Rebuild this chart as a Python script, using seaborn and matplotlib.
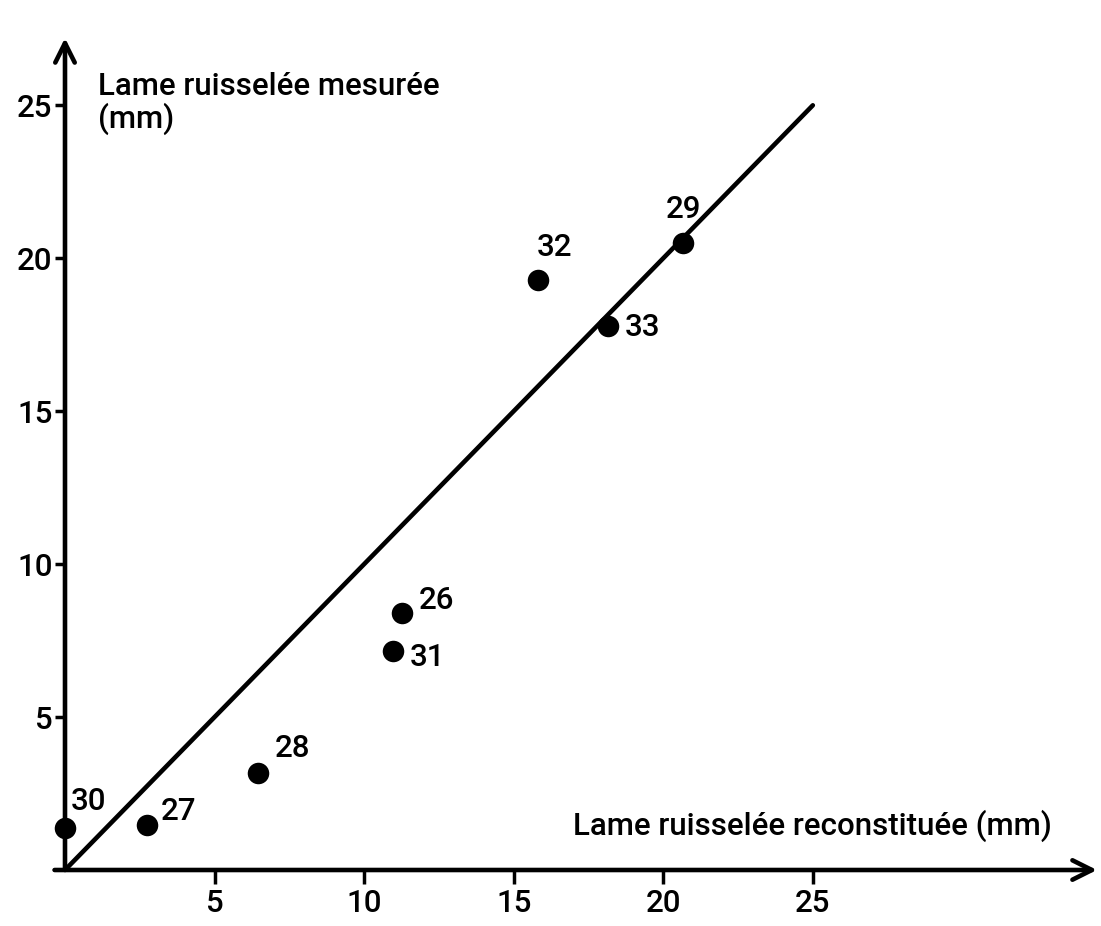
import matplotlib
matplotlib.use("Agg")
import matplotlib.pyplot as plt
import seaborn as sns
import pandas as pd

# Data
event_ids = ["30", "27", "28", "31", "26", "32", "33", "29"]
reconstituted = [0.0, 2.75, 6.45, 10.95, 11.25, 15.8, 18.15, 20.65]
measured = [1.37, 1.47, 3.17, 7.16, 8.4, 19.3, 17.8, 20.5]
# label offsets (pixels) relative to each point
label_dx = [23, 31, 35, 35, 35, 17, 35, 1]
label_dy = [27, 14, 25, -7, 13, 32, -2, 33]
line_x = [0, 25]
line_y = [0, 25]
ticks = [5, 10, 15, 20, 25]

sns.set_theme(style="white")
plt.rcParams['font.family'] = ['Roboto', 'DejaVu Sans']
plt.rcParams['font.weight'] = 'medium'
plt.rcParams['text.color'] = 'black'

FS = 22.5

fig = plt.figure(figsize=(11.01, 9.26), dpi=100)
ax = fig.add_axes([65/1101, 56/926, (1097-65)/1101, (870-38)/926])
xmax, ymax = 34.5, 27.2
ax.set_xlim(0, xmax)
ax.set_ylim(0, ymax)

df = pd.DataFrame({"x": reconstituted, "y": measured, "id": event_ids})
sns.lineplot(x=line_x, y=line_y, ax=ax, color="black", lw=3.3)
sns.scatterplot(data=df, x="x", y="y", ax=ax, color="black", s=240,
                edgecolor="black", linewidth=0, zorder=5, clip_on=False)

for xi, yi, lab, dx, dy in zip(reconstituted, measured, event_ids, label_dx, label_dy):
    ax.annotate(lab, (xi, yi), xytext=(dx * 0.72, dy * 0.72), textcoords="offset points",
                ha="center", va="center", fontsize=FS, color="black", fontweight="medium")

for s in ax.spines.values():
    s.set_visible(False)

ax.annotate("", xy=(xmax, 0), xytext=(-0.35, 0),
            arrowprops=dict(arrowstyle="->", lw=3.3, color="black", mutation_scale=35,
                            shrinkA=0, shrinkB=0), annotation_clip=False)
ax.annotate("", xy=(0, ymax), xytext=(0, 0),
            arrowprops=dict(arrowstyle="->", lw=3.3, color="black", mutation_scale=35,
                            shrinkA=0, shrinkB=0), annotation_clip=False)

ax.set_xticks(ticks)
ax.set_yticks(ticks)
ax.set_xticklabels([str(t) for t in ticks], fontsize=FS, fontweight="medium")
ax.set_yticklabels([str(t) for t in ticks], fontsize=FS, fontweight="medium")
ax.tick_params(axis="x", direction="out", length=10, width=2.5, pad=4, colors="black", bottom=True)
ax.tick_params(axis="y", direction="out", length=7, width=2.5, pad=2, colors="black", left=True)
ax.set_xlabel("")
ax.set_ylabel("")
ax.grid(False)

ax.text(1.1, 25.05, "Lame ruisselée mesurée\n(mm)", fontsize=FS, ha="left", va="center",
        linespacing=1.05, color="black", fontweight="medium")
ax.text(33.0, 1.45, "Lame ruisselée reconstituée (mm)", fontsize=FS, ha="right", va="center",
        color="black", fontweight="medium")

fig.savefig("out.png", dpi=100)
